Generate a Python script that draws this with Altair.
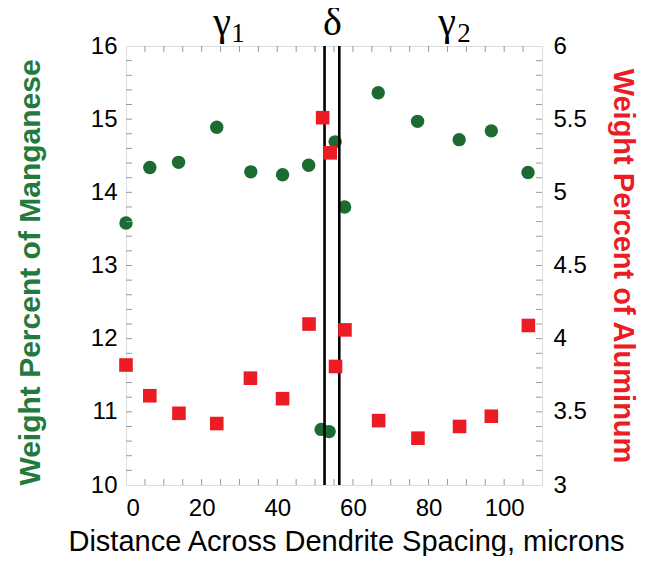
import altair as alt
import pandas as pd

# Manganese (left axis, green circles)
mn_x = [0, 6.3, 13.9, 24.0, 33.0, 41.4, 48.3, 51.6, 53.7, 55.3, 57.8, 66.7, 77.1, 88.1, 96.6, 106.3]
mn_y = [13.58, 14.34, 14.41, 14.89, 14.28, 14.24, 14.37, 10.76, 10.73, 14.69, 13.80, 15.36, 14.97, 14.72, 14.84, 14.27]

# Aluminum (right axis, red squares)
al_x = [0, 6.3, 14.0, 24.0, 32.9, 41.4, 48.4, 52.0, 54.0, 55.4, 57.9, 66.8, 77.2, 88.2, 96.6, 106.4]
al_y = [3.82, 3.61, 3.49, 3.42, 3.73, 3.59, 4.10, 5.51, 5.27, 3.81, 4.06, 3.44, 3.32, 3.40, 3.47, 4.09]

# delta-phase boundaries
boundaries = [52.5, 56.4]

# phase labels
phase_main = ["γ", "δ", "γ"]
phase_main_x = [25.4, 54.6, 84.9]
phase_sub = ["1", "2"]
phase_sub_x = [29.6, 89.4]

x_ticks_major = [0, 20, 40, 60, 80, 100]
mn_ticks_major = [10, 11, 12, 13, 14, 15, 16]
al_ticks_major = [3, 3.5, 4, 4.5, 5, 5.5, 6]
x_ticks_minor = [i * 5 for i in range(1, 22)]
mn_ticks_minor = [round(10 + i * 0.2, 2) for i in range(1, 30)]
al_ticks_minor = [round(3 + i * 0.1, 2) for i in range(1, 30)]

GREEN = "#1b6b33"
GREEN_T = "#237a3c"
RED = "#ec1c24"
AX = "#9a9a9a"
FONT = "Liberation Sans"
TL = 6  # tick length (px)

mn_df = pd.DataFrame({"x": mn_x, "y": mn_y})
al_df = pd.DataFrame({"x": al_x, "y": al_y})
b_df = pd.DataFrame({"x": boundaries})
main_df = pd.DataFrame({"x": phase_main_x, "t": phase_main})
sub_df = pd.DataFrame({"x": phase_sub_x, "t": phase_sub})
xt_df = pd.DataFrame({"x": x_ticks_minor})
mt_df = pd.DataFrame({"y": mn_ticks_minor})
at_df = pd.DataFrame({"y": al_ticks_minor})

xs = alt.Scale(domain=[0, 110], nice=False, zero=False)
mns = alt.Scale(domain=[10, 16], nice=False, zero=False)
als = alt.Scale(domain=[3, 6], nice=False, zero=False)

W, H = 416, 439

x_axis = alt.Axis(values=x_ticks_major, tickSize=0, domain=False, grid=False, labelFontSize=24,
                  labelFont=FONT, labelColor="black", labelPadding=11,
                  title="Distance Across Dendrite Spacing, microns", titleFont=FONT,
                  titleFontSize=29, titleFontWeight="normal", titleColor="black",
                  titleX=220, titleY=65, titleBaseline="alphabetic", titleAlign="center")

mn_axis = alt.Axis(orient="left", values=mn_ticks_major, tickSize=0, domain=False, grid=False,
                   labelFontSize=24, labelFont=FONT, labelColor="black", labelPadding=9,
                   title="Weight Percent of Manganese", titleFont=FONT, titleFontSize=30,
                   titleFontWeight="bold", titleColor=GREEN_T, titleAngle=270,
                   titleX=-96, titleY=226, titleBaseline="middle", titleAlign="center")

al_axis = alt.Axis(orient="right", values=al_ticks_major, tickSize=0, domain=False, grid=False,
                   labelFontSize=24, labelFont=FONT, labelColor="black", labelPadding=11,
                   format="~g",
                   title="Weight Percent of Aluminum", titleFont=FONT, titleFontSize=29,
                   titleFontWeight="bold", titleColor=RED, titleAngle=90,
                   titleX=80, titleY=H / 2, titleBaseline="middle", titleAlign="center")


def X(field="x"):
    return alt.X(f"{field}:Q", scale=xs, axis=x_axis)


def YM(field="y"):
    return alt.Y(f"{field}:Q", scale=mns, axis=mn_axis)


def YA(field="y"):
    return alt.Y(f"{field}:Q", scale=als, axis=al_axis)


mn_points = alt.Chart(mn_df).mark_point(shape="circle", filled=True, size=180, color=GREEN, opacity=1).encode(
    x=X(), y=YM())
# inward minor ticks
x_bot = alt.Chart(xt_df).mark_rule(color=AX, strokeWidth=1).encode(
    x=X(), y=alt.value(H - TL), y2=alt.value(H))
x_top = alt.Chart(xt_df).mark_rule(color=AX, strokeWidth=1).encode(
    x=X(), y=alt.value(0), y2=alt.value(TL))
mn_tk = alt.Chart(mt_df).mark_rule(color=AX, strokeWidth=1).encode(
    y=YM(), x=alt.value(0), x2=alt.value(TL))
rules = alt.Chart(b_df).mark_rule(color="black", strokeWidth=2.6).encode(x=X())
mn_layer = alt.layer(mn_points, x_bot, x_top, mn_tk, rules)

al_points = alt.Chart(al_df).mark_point(shape="square", filled=True, size=185, color=RED, opacity=1).encode(
    x=X(), y=YA())
al_tk = alt.Chart(at_df).mark_rule(color=AX, strokeWidth=1).encode(
    y=YA(), x=alt.value(W - TL), x2=alt.value(W))
al_layer = alt.layer(al_points, al_tk)

main_txt = alt.Chart(main_df).mark_text(font="Liberation Serif", fontSize=40, baseline="alphabetic",
                                        align="center", color="black").encode(
    x=X(), y=alt.value(-11), text="t:N")
sub_txt = alt.Chart(sub_df).mark_text(font="Liberation Serif", fontSize=27, baseline="alphabetic",
                                      align="center", color="black").encode(
    x=X(), y=alt.value(-4), text="t:N")

chart = alt.layer(mn_layer, al_layer, main_txt, sub_txt).resolve_scale(
    y="independent"
).properties(
    width=W, height=H,
    autosize=alt.AutoSizeParams(type="none"),
    padding={"left": 118, "top": 38, "right": 97, "bottom": 71},
).configure_view(stroke=AX, strokeWidth=1.2).configure(background="white")

chart.save("out.html", embed_options={"renderer": "svg", "actions": False})
